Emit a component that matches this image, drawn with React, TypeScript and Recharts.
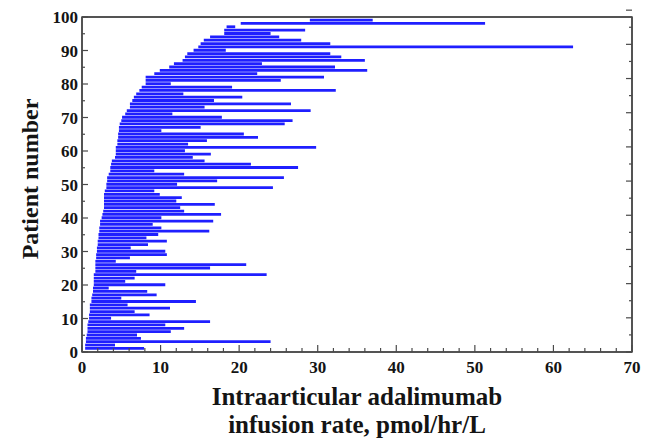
import { Bar, ComposedChart, Label, ReferenceArea, XAxis, YAxis } from 'recharts'

// patient number (y) and the low/high infusion rate (x)
const patients = [
  1, 2, 3, 4, 5, 6, 7, 8, 9, 10, 11, 12, 13, 14, 15, 16, 17, 18, 19, 20,
  21, 22, 23, 24, 25, 26, 27, 28, 29, 30, 31, 32, 33, 34, 35, 36, 37, 38, 39, 40,
  41, 42, 43, 44, 45, 46, 47, 48, 49, 50, 51, 52, 53, 54, 55, 56, 57, 58, 59, 60,
  61, 62, 63, 64, 65, 66, 67, 68, 69, 70, 71, 72, 73, 74, 75, 76, 77, 78, 79, 80,
  81, 82, 83, 84, 85, 86, 87, 88, 89, 90, 91, 92, 93, 94, 95, 96, 97, 98, 99
]

const lowRates = [
  0.4, 0.4, 0.5, 0.5, 0.6, 0.7, 0.7, 0.7, 0.8, 0.9, 0.9, 1.0, 1.0, 1.0, 1.2, 1.2, 1.3, 1.4, 1.4, 1.5,
  1.5, 1.5, 1.5, 1.7, 1.7, 1.7, 1.7, 1.8, 1.8, 1.9, 1.9, 2.0, 2.0, 2.1, 2.1, 2.2, 2.2, 2.3, 2.3, 2.5,
  2.6, 2.7, 2.8, 2.8, 2.8, 2.8, 2.8, 2.9, 3.1, 3.1, 3.2, 3.2, 3.4, 3.6, 3.6, 3.7, 3.8, 4.2, 4.3, 4.3,
  4.3, 4.5, 4.5, 4.6, 4.6, 4.7, 4.7, 4.8, 5.0, 5.1, 5.5, 5.7, 6.1, 6.1, 6.4, 6.6, 6.9, 7.3, 7.6, 8.1,
  8.1, 8.1, 9.2, 9.9, 11.1, 11.7, 12.8, 13.1, 13.4, 14.2, 14.8, 15.1, 15.5, 16.3, 18.1, 18.1, 18.4, 20.2, 29.0
]

const highRates = [
  7.9, 4.2, 24.0, 7.5, 7.0, 11.3, 13.0, 10.6, 16.3, 3.7, 8.6, 6.7, 11.2, 5.8, 14.5, 5.0, 9.5, 8.3, 3.4, 10.6,
  5.5, 6.7, 23.5, 6.9, 16.3, 20.9, 4.3, 6.1, 10.8, 10.6, 6.2, 8.4, 10.8, 8.2, 9.7, 16.2, 10.1, 9.0, 16.7, 10.1,
  17.7, 13.0, 12.5, 16.9, 12.0, 12.7, 9.9, 9.2, 24.3, 12.1, 17.2, 25.7, 13.0, 9.2, 27.5, 21.5, 15.6, 14.1, 16.4, 13.1,
  29.8, 13.5, 15.9, 22.4, 20.6, 10.1, 15.1, 25.8, 26.8, 17.8, 11.5, 29.1, 15.6, 26.6, 16.8, 20.4, 12.9, 32.3, 19.1, 11.3,
  25.3, 30.8, 22.3, 36.3, 32.2, 22.9, 36.0, 33.0, 31.6, 18.3, 62.5, 31.6, 27.9, 25.1, 24.0, 28.4, 19.5, 51.3, 37.0
]

const xTicks = [
  0, 2, 4, 6, 8, 10, 12, 14, 16, 18, 20, 22, 24, 26, 28, 30, 32, 34, 36, 38,
  40, 42, 44, 46, 48, 50, 52, 54, 56, 58, 60, 62, 64, 66, 68, 70
]
const yTicks = [0, 5, 10, 15, 20, 25, 30, 35, 40, 45, 50, 55, 60, 65, 70, 75, 80, 85, 90, 95, 100]

const data = patients.map((patient, i) => ({ patient, range: [lowRates[i], highRates[i]] }))

const FONT = '"Liberation Serif", "Times New Roman", serif'
const AXIS = '#4a4a4a'
const INK = '#141414'

function BottomTick({ x, y, payload }: any) {
  const major = payload.value % 10 === 0
  return (
    <g>
      <line x1={x} x2={x} y1={y} y2={y - (major ? 7 : 4)} stroke={AXIS} strokeWidth={1.2} />
      {major && (
        <text x={x} y={y + 21} textAnchor="middle" fontFamily={FONT} fontWeight="bold" fontSize={17} fill={INK}>
          {payload.value}
        </text>
      )}
    </g>
  )
}

function TopTick({ x, y, payload }: any) {
  const major = payload.value % 10 === 0
  return <line x1={x} x2={x} y1={y} y2={y + (major ? 7 : 4)} stroke={AXIS} strokeWidth={1.2} />
}

function LeftTick({ x, y, payload }: any) {
  const major = payload.value % 10 === 0
  return (
    <g>
      <line x1={x} x2={x + (major ? 6 : 3)} y1={y} y2={y} stroke={AXIS} strokeWidth={1.2} />
      {major && (
        <text x={x - 4} y={y + 6} textAnchor="end" fontFamily={FONT} fontWeight="bold" fontSize={17} fill={INK}>
          {payload.value}
        </text>
      )}
    </g>
  )
}

function RightTick({ x, y, payload }: any) {
  const major = payload.value % 10 === 0
  return <line x1={x} x2={x - (major ? 6 : 3)} y1={y} y2={y} stroke={AXIS} strokeWidth={1.2} />
}

export default function App() {
  return (
    <ComposedChart
      width={634}
      height={430}
      data={data}
      layout="vertical"
      margin={{ top: 8, right: 9, left: 0, bottom: 0 }}
    >
      <XAxis
        type="number"
        domain={[0, 70]}
        ticks={xTicks}
        interval={0}
        height={86}
        tickSize={0}
        tickMargin={0}
        tickLine={false}
        tick={<BottomTick />}
        axisLine={{ stroke: AXIS, strokeWidth: 1.5 }}
      >
        <Label
          content={() => (
            <text textAnchor="middle" fontFamily={FONT} fontWeight="bold" fontSize={25} fill={INK}>
              <tspan x={349} y={397}>Intraarticular adalimumab</tspan>
              <tspan x={349} y={425}>infusion rate, pmol/hr/L</tspan>
            </text>
          )}
        />
      </XAxis>
      <XAxis
        xAxisId="top"
        orientation="top"
        type="number"
        domain={[0, 70]}
        ticks={xTicks}
        interval={0}
        height={1}
        tickSize={0}
        tickMargin={0}
        tickLine={false}
        tick={<TopTick />}
        axisLine={{ stroke: AXIS, strokeWidth: 1.5 }}
      />
      <YAxis
        type="number"
        dataKey="patient"
        domain={[0, 100]}
        reversed
        ticks={yTicks}
        interval={0}
        width={74}
        tickSize={0}
        tickMargin={0}
        tickLine={false}
        tick={<LeftTick />}
        axisLine={{ stroke: AXIS, strokeWidth: 1.5 }}
      >
        <Label
          content={() => (
            <text
              x={22}
              y={171}
              transform="rotate(-90, 22, 171)"
              textAnchor="middle"
              dominantBaseline="central"
              fontFamily={FONT}
              fontWeight="bold"
              fontSize={24}
              fill={INK}
            >
              Patient number
            </text>
          )}
        />
      </YAxis>
      <YAxis
        yAxisId="right"
        orientation="right"
        type="number"
        domain={[0, 100]}
        reversed
        ticks={yTicks}
        interval={0}
        width={1}
        tickSize={0}
        tickMargin={0}
        tickLine={false}
        tick={<RightTick />}
        axisLine={{ stroke: AXIS, strokeWidth: 1.5 }}
      />
      <ReferenceArea
        x1={0}
        x2={70}
        y1={0}
        y2={100}
        fill="none"
        fillOpacity={0}
        stroke={AXIS}
        strokeWidth={1.5}
        ifOverflow="visible"
      />
      <Bar dataKey="range" fill="#1f1fff" barSize={2.8} isAnimationActive={false} />
    </ComposedChart>
  )
}
